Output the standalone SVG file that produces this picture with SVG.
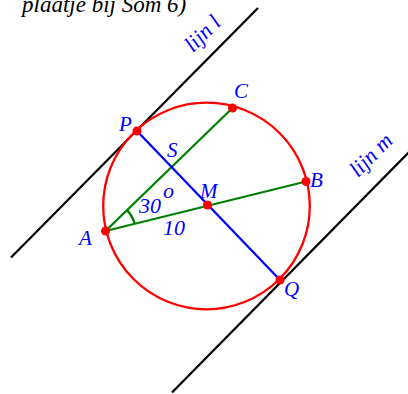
<svg xmlns="http://www.w3.org/2000/svg" width="408" height="394" viewBox="0 0 408 394">
<style>
.lbl{font-family:"Liberation Serif","Times New Roman",serif;font-style:italic;font-size:21px;fill:#0000ff}
.lijn{font-family:"Liberation Serif","Times New Roman",serif;font-style:italic;font-size:22px;fill:#0000ff}
.num{font-family:"Liberation Serif","Times New Roman",serif;font-style:italic;font-size:22px;fill:#0000ff}
.title{font-family:"Liberation Serif","Times New Roman",serif;font-style:italic;font-size:23px;fill:#000000}
.blk{stroke:#000000;stroke-width:2.3;fill:none}
.grn{stroke:#008000;stroke-width:2.3;fill:none}
.blu{stroke:#0000ff;stroke-width:2.3;fill:none}
.dot{fill:#ff0000}
</style>
<rect width="408" height="394" fill="#ffffff"/>
<text class="title" x="22" y="12">plaatje bij Som 6)</text>
<g id="connectors">
<line id="lijn-l" class="blk" x1="11" y1="257.5" x2="258" y2="8"/>
<line id="lijn-m" class="blk" x1="172" y1="392.5" x2="409" y2="152"/>
<circle id="cirkel" cx="206.5" cy="206" r="103.3" fill="none" stroke="#ff0000" stroke-width="2.3"/>
<line id="AC" class="grn" x1="105.5" y1="231" x2="232.5" y2="108"/>
<line id="AB" class="grn" x1="105.5" y1="231" x2="306" y2="181.5"/>
<path id="hoek" class="grn" d="M134.6,223.8 A30,30 0 0 0 127,210.1"/>
<line id="PQ" class="blu" x1="137" y1="131" x2="280" y2="280"/>
</g>
<g id="A"><circle class="dot" cx="105.5" cy="231" r="4.5"/><text class="lbl" x="79" y="245">A</text></g>
<g id="B"><circle class="dot" cx="306" cy="181.5" r="4.5"/><text class="lbl" x="310" y="187">B</text></g>
<g id="C"><circle class="dot" cx="232.5" cy="108" r="4.5"/><text class="lbl" x="234" y="98">C</text></g>
<g id="P"><circle class="dot" cx="137" cy="131" r="4.5"/><text class="lbl" x="119" y="131">P</text></g>
<g id="Q"><circle class="dot" cx="280" cy="280" r="4.5"/><text class="lbl" x="284" y="296">Q</text></g>
<g id="M"><circle class="dot" cx="207.5" cy="205" r="4.5"/><text class="lbl" x="200" y="198">M</text></g>
<g id="S"><text class="lbl" x="167" y="157">S</text></g>
<g id="hoek-label"><text class="num" x="139" y="213">30</text><text class="num" x="163" y="198">o</text></g>
<g id="lengte"><text class="num" x="163" y="235">10</text></g>
<g id="label-l"><text class="lijn" transform="translate(193,53) rotate(-45)">lijn l</text></g>
<g id="label-m"><text class="lijn" transform="translate(358,178) rotate(-45)">lijn m</text></g>
</svg>
